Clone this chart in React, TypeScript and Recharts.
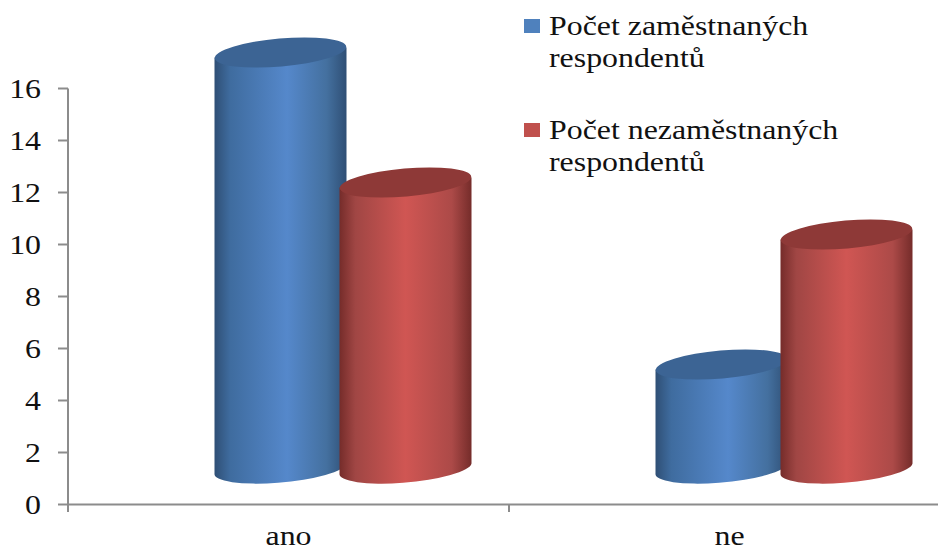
import { BarChart, Bar, XAxis, YAxis, Legend } from 'recharts'

const categories = ['ano', 'ne']
const employed = [16, 4]
const unemployed = [11, 9]
const yTicks = [0, 2, 4, 6, 8, 10, 12, 14, 16]

const chartData = categories.map((name, i) => ({
  name,
  employed: employed[i],
  unemployed: unemployed[i],
}))

const FONT = '"Liberation Serif", serif'
const AXIS = '#8c8c8c'
const TEXT = '#111'
// the reference text is stretched sideways
const STRETCH = 1.18

// the 3D floor pushes the columns up and to the right of their axis position
const SHIFT_X = 54
const SHIFT_Y = 36

const CHART_W = 938
const LEFT = 68
const RIGHT = -12
const HALF_BAND = (CHART_W - LEFT - RIGHT) / categories.length / 2

const Cylinder = ({ x, y, width, height, gradient, top }: any) => {
  const cx = x + width / 2 + SHIFT_X
  const rx = 66
  const ry = 14
  const tilt = 5
  const cy = y - SHIFT_Y
  const bottom = cy + height
  const left = cx - rx
  const right = cx + rx
  return (
    <g>
      <path
        d={`M${left} ${cy + 5} L${left} ${bottom + 5} A${rx} ${ry} -${tilt} 0 0 ${right} ${bottom - 5} L${right} ${cy - 5} Z`}
        fill={`url(#${gradient})`}
      />
      <ellipse cx={cx} cy={cy} rx={rx} ry={ry} fill={top} transform={`rotate(-${tilt} ${cx} ${cy})`} />
    </g>
  )
}

const YTick = ({ x, y, payload }: any) => (
  <text
    transform={`translate(${x} ${y + 9}) scale(${STRETCH} 1)`}
    textAnchor="end"
    fontFamily={FONT}
    fontSize={27}
    fill={TEXT}
  >
    {payload.value}
  </text>
)

// ticks sit on the band edges, labels in the middle of the band
const XTick = ({ x, payload }: any) => (
  <g>
    <line x1={x - HALF_BAND} x2={x - HALF_BAND} y1={505} y2={512} stroke={AXIS} strokeWidth={2} />
    <text
      transform={`translate(${x} 545) scale(${STRETCH} 1)`}
      textAnchor="middle"
      fontFamily={FONT}
      fontSize={27}
      fill={TEXT}
    >
      {payload.value}
    </text>
  </g>
)

const LegendList = ({ payload }: any) => (
  <div style={{ fontFamily: FONT, fontSize: 27, lineHeight: '32px', color: TEXT }}>
    {payload.map((item: any) => {
      const [first, second] = item.value.split('|')
      return (
        <div key={item.value} style={{ position: 'relative', paddingLeft: 25, height: 104 }}>
          <span style={{ position: 'absolute', left: 0, top: 9, width: 16, height: 14, background: item.color }} />
          <div style={{ whiteSpace: 'nowrap', transform: `scaleX(${STRETCH})`, transformOrigin: 'left' }}>{first}</div>
          <div style={{ whiteSpace: 'nowrap', transform: `scaleX(${STRETCH})`, transformOrigin: 'left' }}>{second}</div>
        </div>
      )
    })}
  </div>
)

export default function App() {
  return (
    <div style={{ position: 'absolute', left: 0, top: 0, width: CHART_W, height: 551, background: '#fff', overflow: 'hidden' }}>
      <BarChart
        width={CHART_W}
        height={551}
        data={chartData}
        margin={{ top: 88.5, right: RIGHT, bottom: 0, left: 0 }}
        barSize={125}
        barGap={0}
      >
        <defs>
          <linearGradient id="blueBody" x1="0" y1="0" x2="1" y2="0">
            <stop offset="0%" stopColor="#2f4f75" />
            <stop offset="12%" stopColor="#3f6c9f" />
            <stop offset="55%" stopColor="#5588cb" />
            <stop offset="85%" stopColor="#44709f" />
            <stop offset="100%" stopColor="#2f4f75" />
          </linearGradient>
          <linearGradient id="redBody" x1="0" y1="0" x2="1" y2="0">
            <stop offset="0%" stopColor="#752c2a" />
            <stop offset="12%" stopColor="#a04644" />
            <stop offset="50%" stopColor="#d05653" />
            <stop offset="85%" stopColor="#ac4a48" />
            <stop offset="100%" stopColor="#752c2a" />
          </linearGradient>
        </defs>
        <XAxis
          dataKey="name"
          height={46.5}
          stroke={AXIS}
          strokeWidth={2}
          tickLine={false}
          tick={<XTick />}
        />
        <YAxis
          width={LEFT}
          domain={[0, 16]}
          ticks={yTicks}
          interval={0}
          stroke={AXIS}
          strokeWidth={2}
          tickSize={10}
          tickMargin={17}
          tickLine={{ stroke: AXIS, strokeWidth: 2 }}
          tick={<YTick />}
        />
        <Legend
          layout="vertical"
          verticalAlign="middle"
          align="center"
          itemSorter="dataKey"
          wrapperStyle={{ left: 524, top: 10, width: 400 }}
          content={<LegendList />}
        />
        <Bar
          dataKey="employed"
          name="Počet zaměstnaných|respondentů"
          fill="#4f81bd"
          isAnimationActive={false}
          shape={<Cylinder gradient="blueBody" top="#3c6494" />}
        />
        <Bar
          dataKey="unemployed"
          name="Počet nezaměstnaných|respondentů"
          fill="#c0504d"
          isAnimationActive={false}
          shape={<Cylinder gradient="redBody" top="#8e3937" />}
        />
      </BarChart>
    </div>
  )
}
